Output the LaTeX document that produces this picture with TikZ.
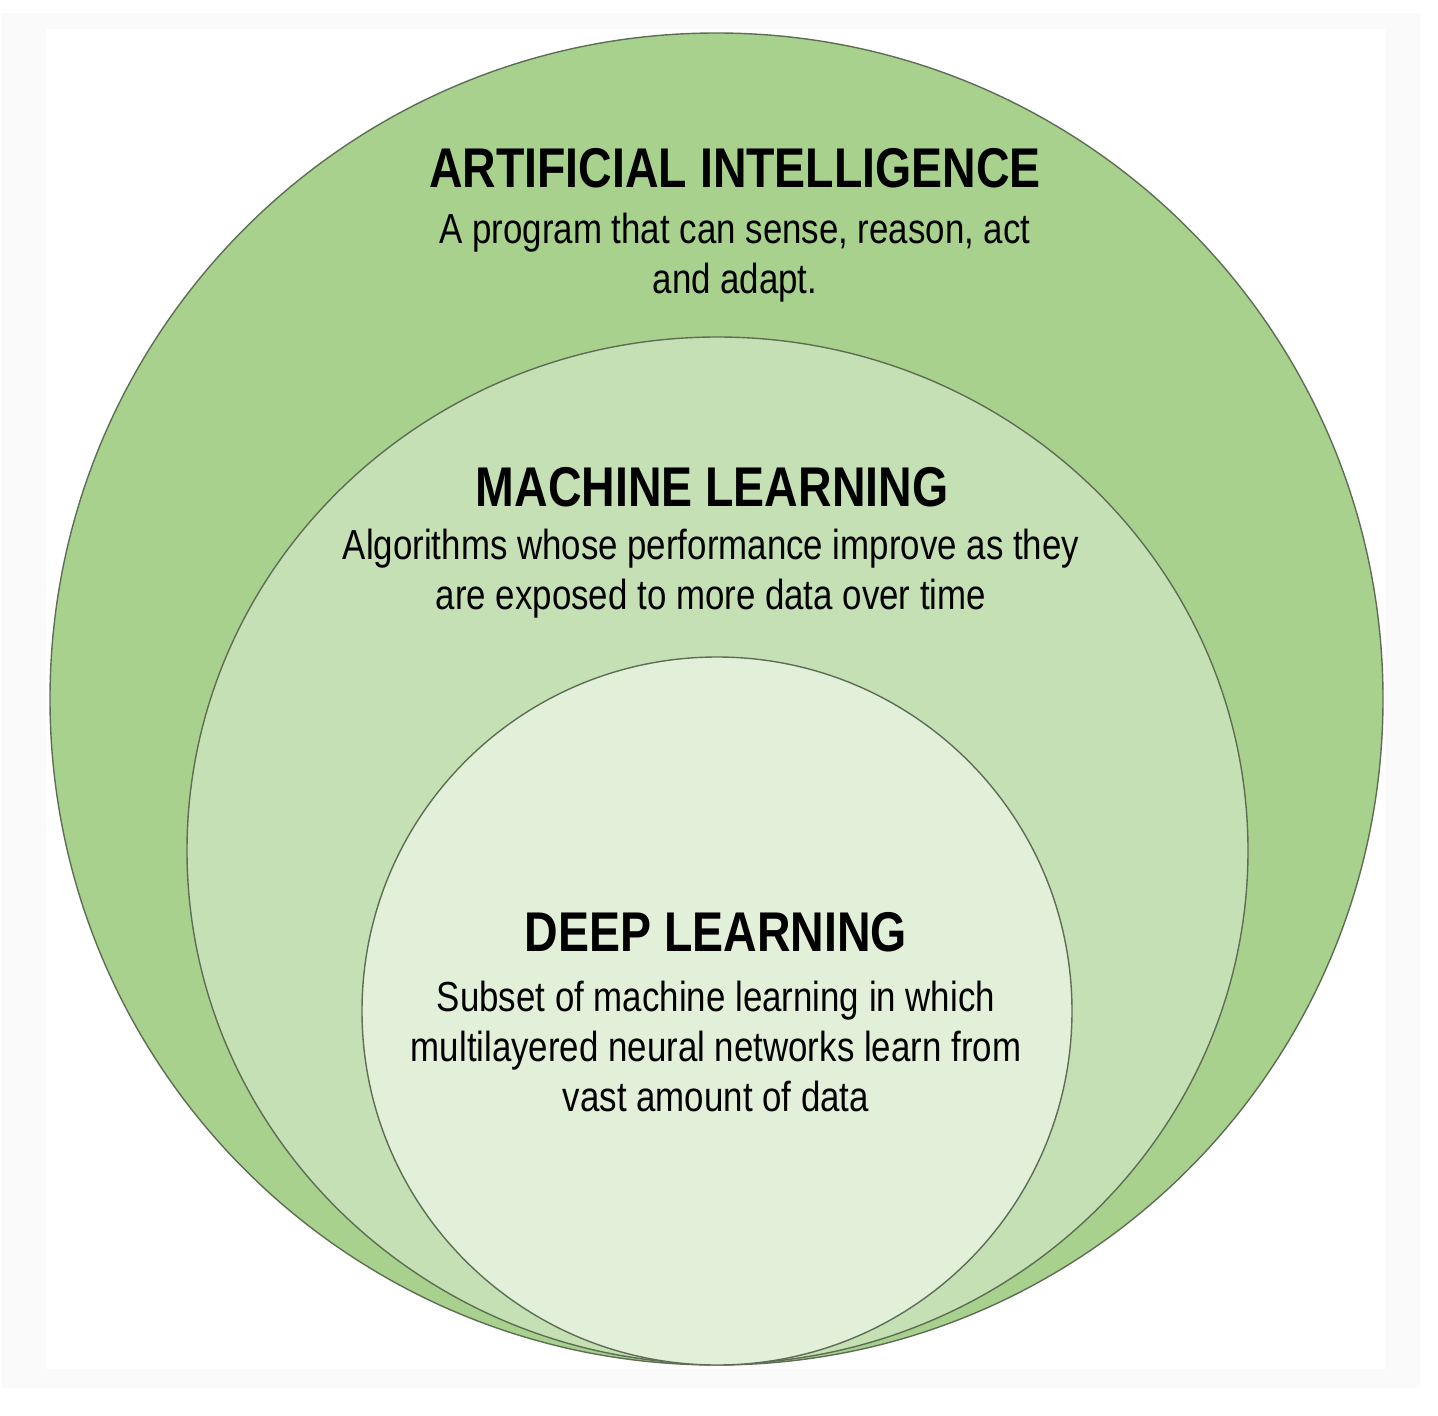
\documentclass[tikz,border=0pt]{standalone}
\usepackage{fontspec}
\setmainfont[FakeStretch=0.83]{Liberation Sans}
\usetikzlibrary{shapes.geometric}
\definecolor{aifill}{HTML}{A9D18E}
\definecolor{mlfill}{HTML}{C5E0B4}
\definecolor{dlfill}{HTML}{E2F0D9}
\definecolor{rim}{HTML}{5E6E55}
\definecolor{frame}{HTML}{FAFAFA}
\begin{document}
\begin{tikzpicture}[x=1pt,y=-1pt,
  set/.style={ellipse, draw=rim, line width=1.4pt, inner sep=0pt},
  title/.style={font=\fontsize{56}{60}\selectfont\bfseries, text=black, inner sep=0pt},
  body/.style={font=\fontsize{42}{50}\selectfont, text=black, align=center, inner sep=0pt}]
\useasboundingbox (0,0) rectangle (1438,1416);
\fill[white] (0,0) rectangle (1438,1416);
\fill[frame] (1,13) rectangle (1420,1388);
\fill[white] (46,29) rectangle (1385,1369);
\node[set, fill=aifill, minimum width=1333pt, minimum height=1332pt] (ai) at (716.5,699) {};
\node[set, fill=mlfill, minimum width=1061pt, minimum height=1027pt] (ml) at (717.5,850.5) {};
\node[set, fill=dlfill, minimum width=710pt, minimum height=708pt] (dl) at (717,1011) {};
\node[title] (aititle) at (735,168) {ARTIFICIAL INTELLIGENCE};
\node[body] (aibody) at (735,258) {A program that can sense, reason, act\\and adapt.};
\node[title] (mltitle) at (712,487) {MACHINE LEARNING};
\node[body] (mlbody) at (711,574) {Algorithms whose performance improve as they\\are exposed to more data over time};
\node[title] (dltitle) at (716,932) {DEEP LEARNING};
\node[body] (dlbody) at (716,1046) {Subset of machine learning in which\\multilayered neural networks learn from\\vast amount of data};
\end{tikzpicture}
\end{document}
